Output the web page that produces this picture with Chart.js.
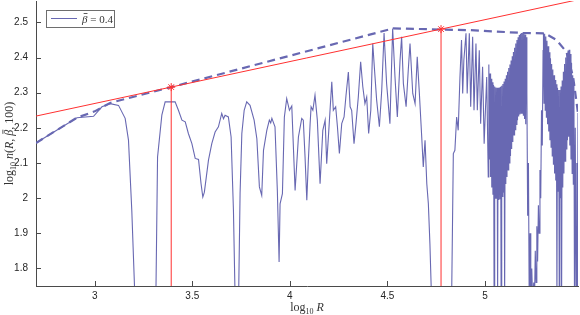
<!DOCTYPE html>
<html>
<head>
<meta charset="utf-8">
<script src="https://cdn.jsdelivr.net/npm/chart.js@4.4.1/dist/chart.umd.min.js"></script>
<style>
  html, body { margin: 0; padding: 0; background: #fff; }
  #wrap { width: 580px; height: 315px; position: relative; }
</style>
</head>
<body>
<div id="wrap"><canvas id="chart"></canvas></div>
<script>
// 軸の範囲と目盛り
const xRange = [2.699, 5.477];
const yRange = [1.75, 2.561];
const xTicks = [3, 3.5, 4, 4.5, 5];
const yTicks = [1.8, 1.9, 2, 2.1, 2.2, 2.3, 2.4, 2.5];

// 実線 log10 n(R, beta, 100)
const traceLogR = [
  2.699, 2.909, 2.994, 3.037, 3.079, 3.122, 3.156, 3.173, 3.190, 3.207,
  3.313, 3.322, 3.344, 3.361, 3.387, 3.412, 3.429, 3.447, 3.464, 3.480,
  3.498, 3.515, 3.532, 3.545, 3.554, 3.562, 3.583, 3.600, 3.617, 3.634,
  3.651, 3.660, 3.668, 3.685, 3.699, 3.711, 3.720, 3.737, 3.745, 3.754,
  3.766, 3.779, 3.796, 3.817, 3.831, 3.844, 3.856, 3.865, 3.882, 3.895,
  3.902, 3.908, 3.924, 3.936, 3.945, 3.950, 3.962, 3.972, 3.984, 3.998,
  4.010, 4.027, 4.044, 4.061, 4.069, 4.078, 4.087, 4.095, 4.104, 4.109,
  4.118, 4.129, 4.141, 4.155, 4.169, 4.181, 4.189, 4.203, 4.215, 4.223,
  4.235, 4.244, 4.254, 4.266, 4.278, 4.288, 4.300, 4.309, 4.317, 4.329,
  4.339, 4.351, 4.363, 4.374, 4.385, 4.394, 4.404, 4.415, 4.425, 4.433,
  4.445, 4.459, 4.471, 4.483, 4.496, 4.513, 4.527, 4.539, 4.551, 4.565,
  4.573, 4.582, 4.596, 4.607, 4.616, 4.630, 4.642, 4.653, 4.664, 4.676,
  4.684, 4.693, 4.702, 4.710, 4.718, 4.727, 4.829, 4.838, 4.846, 4.855,
  4.863, 4.872, 4.880, 4.886, 4.892, 4.903, 4.909, 4.920, 4.927, 4.937,
  4.944, 4.954, 4.961, 4.971, 4.978, 4.988, 4.996, 5.009, 5.017,
  5.020, 5.023, 5.026, 5.029, 5.032, 5.035, 5.038, 5.041, 5.044, 5.047,
  5.050, 5.053, 5.056, 5.059, 5.062, 5.065, 5.068, 5.071, 5.074, 5.077,
  5.080, 5.083, 5.086, 5.089, 5.092, 5.095, 5.098, 5.101, 5.104, 5.107,
  5.110, 5.113, 5.116, 5.119, 5.122, 5.125, 5.128, 5.131, 5.134, 5.137,
  5.140, 5.143, 5.146, 5.149, 5.152, 5.155, 5.158, 5.161, 5.164, 5.167,
  5.170, 5.173, 5.176, 5.179, 5.182, 5.185, 5.188, 5.191, 5.194, 5.197,
  5.200, 5.203, 5.206, 5.209, 5.212, 5.215, 5.219, 5.223, 5.227, 5.231,
  5.235, 5.240, 5.245, 5.250, 5.254, 5.258, 5.262, 5.266, 5.270, 5.274,
  5.278, 5.282, 5.286, 5.290, 5.294, 5.298, 5.300, 5.303, 5.306, 5.309,
  5.312, 5.315, 5.318, 5.321, 5.324, 5.327, 5.330, 5.333, 5.336, 5.339,
  5.342, 5.345, 5.348, 5.351, 5.354, 5.357, 5.360, 5.363, 5.366, 5.369,
  5.372, 5.375, 5.378, 5.381, 5.384, 5.387, 5.390, 5.393, 5.396, 5.399,
  5.402, 5.405, 5.408, 5.411, 5.414, 5.417, 5.420, 5.423, 5.426, 5.429,
  5.432, 5.435, 5.438, 5.441, 5.444, 5.447, 5.450, 5.453, 5.456, 5.459,
  5.463, 5.467, 5.471, 5.474, 5.477
];
const traceLogN = [
  2.157, 2.229, 2.233, 2.260, 2.269, 2.264, 2.227, 2.165, 1.965, 1.700,
  1.700, 2.117, 2.236, 2.274, 2.274, 2.274, 2.250, 2.222, 2.217, 2.184,
  2.155, 2.113, 2.110, 2.041, 2.003, 2.017, 2.108, 2.155, 2.188, 2.203,
  2.241, 2.226, 2.236, 2.231, 2.174, 1.965, 1.700, 1.700, 2.013, 2.184,
  2.250, 2.274, 2.264, 2.222, 2.169, 2.032, 2.008, 2.136, 2.193, 2.222,
  2.214, 2.227, 2.203, 2.022, 1.818, 1.984, 2.013, 2.231, 2.283, 2.250,
  2.262, 2.022, 2.174, 2.227, 2.222, 2.117, 1.994, 2.108, 2.212, 2.260,
  2.250, 2.293, 2.222, 2.041, 2.193, 2.222, 2.098, 2.222, 2.331, 2.250,
  2.260, 2.203, 2.127, 2.212, 2.231, 2.293, 2.359, 2.260, 2.250, 2.155,
  2.212, 2.288, 2.388, 2.317, 2.269, 2.288, 2.184, 2.250, 2.440, 2.374,
  2.279, 2.203, 2.307, 2.470, 2.326, 2.212, 2.483, 2.345, 2.231, 2.393,
  2.459, 2.326, 2.260, 2.364, 2.440, 2.298, 2.269, 2.402, 2.298, 2.174,
  2.089, 2.165, 2.041, 1.984, 1.870, 1.700, 1.700, 2.127, 2.136, 2.231,
  2.193, 2.345, 2.450, 2.298, 2.393, 2.469, 2.298, 2.469, 2.260, 2.459,
  2.250, 2.440, 2.250, 2.421, 2.212, 2.374, 2.155, 2.345, 2.060,
  2.380, 2.110, 2.355, 2.060, 2.340, 2.030, 2.330, 2.010, 2.322, 1.700,
  2.318, 2.000, 2.315, 1.998, 2.314, 1.700, 2.314, 1.995, 2.315, 1.997,
  2.317, 1.700, 2.320, 2.005, 2.325, 2.015, 2.332, 1.700, 2.340, 2.040,
  2.350, 2.060, 2.360, 2.080, 2.370, 2.100, 2.380, 2.120, 2.392, 2.140,
  2.404, 2.160, 2.416, 2.180, 2.428, 2.195, 2.440, 2.210, 2.450, 2.222,
  2.458, 2.232, 2.464, 2.238, 2.468, 2.242, 2.470, 2.242, 2.471, 2.236,
  2.470, 2.225, 2.466, 2.210, 2.458, 2.300, 1.950, 2.100, 1.700, 1.900,
  1.700, 1.800, 1.700, 1.760, 1.700, 1.850, 1.760, 1.920, 1.820, 1.980,
  1.900, 2.080, 2.000, 2.250, 2.150, 2.420, 2.470, 2.270, 2.468, 2.250,
  2.460, 2.230, 2.448, 2.210, 2.432, 2.190, 2.415, 2.165, 2.398, 2.145,
  2.382, 2.120, 2.366, 2.095, 2.350, 2.070, 2.336, 2.050, 2.324, 1.700,
  2.314, 2.020, 2.308, 1.700, 2.308, 2.000, 2.318, 1.700, 2.335, 2.030,
  2.360, 2.070, 2.382, 2.105, 2.400, 2.140, 2.412, 2.165, 2.420, 2.175,
  2.422, 2.150, 2.410, 2.110, 2.385, 2.070, 2.350, 2.040, 2.330, 1.700,
  2.200, 1.700, 2.100, 1.700, 2.242
];

// 破線（上側包絡線）
const envelopeLogR = [2.699, 2.909, 3.000, 3.079, 3.392, 4.530, 4.923, 5.195, 5.307, 5.367, 5.418, 5.452, 5.477];
const envelopeLogN = [2.157, 2.229, 2.247, 2.271, 2.316, 2.483, 2.478, 2.470, 2.469, 2.450, 2.416, 2.345, 2.242];

// 赤い直線と * マーカー
const fitLogR = [2.699, 5.477];
const fitLogN = [2.2335, 2.5647];
const markerLogR = [3.392, 4.775];
const markerLogN = [2.316, 2.481];

const purple = 'rgb(104, 104, 178)';
const red = 'rgb(255, 48, 48)';
const axisColor = '#4a4a4a';
const sansFont = "'Liberation Sans', Arial, sans-serif";
const serifFont = "'Liberation Serif', 'DejaVu Serif', serif";

const toPoints = (xs, ys) => xs.map((x, i) => ({ x: x, y: ys[i] }));

// マーカーから下端までの縦線
const dropLines = markerLogR.map((x, i) => ({
  data: [{ x: x, y: yRange[0] }, { x: x, y: markerLogN[i] }],
  borderColor: red,
  borderWidth: 1,
  pointRadius: 0
}));

// 文字列を複数フォントで並べて描く（bar: 文字の上に横線）
function drawRuns(ctx, runs, x, y, align) {
  let total = 0;
  runs.forEach(r => {
    ctx.font = r.font;
    r.w = ctx.measureText(r.text).width;
    total += r.w;
  });
  let cx = align === 'center' ? x - total / 2 : x;
  runs.forEach(r => {
    ctx.font = r.font;
    ctx.fillText(r.text, cx, y + (r.dy || 0));
    if (r.bar) {
      ctx.fillRect(cx + r.w * 0.3, y - r.bar, r.w * 0.7, 0.8);
    }
    cx += r.w;
  });
}

const decorPlugin = {
  id: 'decor',
  afterDraw(chart) {
    const { ctx, chartArea, scales } = chart;
    ctx.save();

    // 内向きの目盛り線
    ctx.strokeStyle = axisColor;
    ctx.lineWidth = 1;
    ctx.beginPath();
    xTicks.forEach(v => {
      const px = Math.round(scales.x.getPixelForValue(v)) + 0.5;
      ctx.moveTo(px, chartArea.bottom);
      ctx.lineTo(px, chartArea.bottom - 5);
    });
    yTicks.forEach(v => {
      const py = Math.round(scales.y.getPixelForValue(v)) + 0.5;
      ctx.moveTo(chartArea.left, py);
      ctx.lineTo(chartArea.left + 5, py);
    });
    ctx.stroke();

    // 軸ラベル
    ctx.fillStyle = '#333';
    ctx.textBaseline = 'alphabetic';
    const cx = (chartArea.left + chartArea.right) / 2;
    drawRuns(ctx, [
      { text: 'log', font: '12px ' + serifFont },
      { text: '10', font: '8px ' + serifFont, dy: 3 },
      { text: ' ', font: '12px ' + serifFont },
      { text: 'R', font: 'italic 12px ' + serifFont }
    ], cx, 311, 'center');

    ctx.save();
    ctx.translate(13, (chartArea.top + chartArea.bottom) / 2);
    ctx.rotate(-Math.PI / 2);
    drawRuns(ctx, [
      { text: 'log', font: '12px ' + serifFont },
      { text: '10', font: '8px ' + serifFont, dy: 3 },
      { text: ' ', font: '12px ' + serifFont },
      { text: 'n', font: 'italic 12px ' + serifFont },
      { text: '(', font: '12px ' + serifFont },
      { text: 'R', font: 'italic 12px ' + serifFont },
      { text: ', ', font: '12px ' + serifFont },
      { text: 'β', font: 'italic 12px ' + serifFont, bar: 10.5 },
      { text: ', 100)', font: '12px ' + serifFont }
    ], 0, 0, 'center');
    ctx.restore();

    // 凡例
    ctx.fillStyle = '#fff';
    ctx.fillRect(46, 10, 68, 17);
    ctx.strokeStyle = '#6e6e6e';
    ctx.strokeRect(46.5, 10.5, 68, 17);
    ctx.strokeStyle = purple;
    ctx.beginPath();
    ctx.moveTo(51, 18.5);
    ctx.lineTo(77, 18.5);
    ctx.stroke();
    ctx.fillStyle = '#333';
    drawRuns(ctx, [
      { text: 'β', font: 'italic 11px ' + serifFont, bar: 9.5 },
      { text: ' = 0.4', font: '11px ' + serifFont }
    ], 82, 22.5, 'left');

    ctx.restore();
  }
};

// 目盛りラベル分の余白を消して描画領域を固定する
function zeroPadding(scale) {
  scale.paddingTop = 0;
  scale.paddingBottom = 0;
  scale.paddingLeft = 0;
  scale.paddingRight = 0;
}

new Chart(document.getElementById('chart'), {
  type: 'line',
  data: {
    datasets: [
      {
        data: toPoints(markerLogR, markerLogN),
        showLine: false,
        pointStyle: 'star',
        pointRadius: 4,
        borderColor: red,
        borderWidth: 1
      },
      {
        data: toPoints(fitLogR, fitLogN),
        borderColor: red,
        borderWidth: 1,
        pointRadius: 0
      },
      ...dropLines,
      {
        data: toPoints(envelopeLogR, envelopeLogN),
        borderColor: purple,
        borderWidth: 2.2,
        borderDash: [8, 5],
        pointRadius: 0
      },
      {
        data: toPoints(traceLogR, traceLogN),
        borderColor: purple,
        borderWidth: 1.1,
        pointRadius: 0
      }
    ]
  },
  options: {
    responsive: true,
    maintainAspectRatio: false,
    animation: false,
    layout: { autoPadding: false, padding: { top: 1, right: 2, left: 0, bottom: 0 } },
    plugins: {
      legend: { display: false },
      tooltip: { enabled: false }
    },
    elements: { line: { tension: 0 } },
    scales: {
      x: {
        type: 'linear',
        min: xRange[0],
        max: xRange[1],
        grid: { display: false, drawTicks: false },
        border: { display: true, color: axisColor, width: 1 },
        afterBuildTicks: scale => { scale.ticks = xTicks.map(v => ({ value: v })); },
        afterFit: scale => { scale.height = 29; zeroPadding(scale); },
        ticks: {
          padding: 4,
          color: '#262626',
          font: { family: sansFont, size: 10 },
          maxRotation: 0,
          callback: v => String(v)
        }
      },
      y: {
        type: 'linear',
        min: yRange[0],
        max: yRange[1],
        grid: { display: false, drawTicks: false },
        border: { display: true, color: axisColor, width: 1 },
        afterBuildTicks: scale => { scale.ticks = yTicks.map(v => ({ value: v })); },
        afterFit: scale => { scale.width = 36; zeroPadding(scale); },
        ticks: {
          padding: 8,
          color: '#262626',
          font: { family: sansFont, size: 10 },
          callback: v => String(v)
        }
      }
    }
  },
  plugins: [decorPlugin]
});
</script>
</body>
</html>
